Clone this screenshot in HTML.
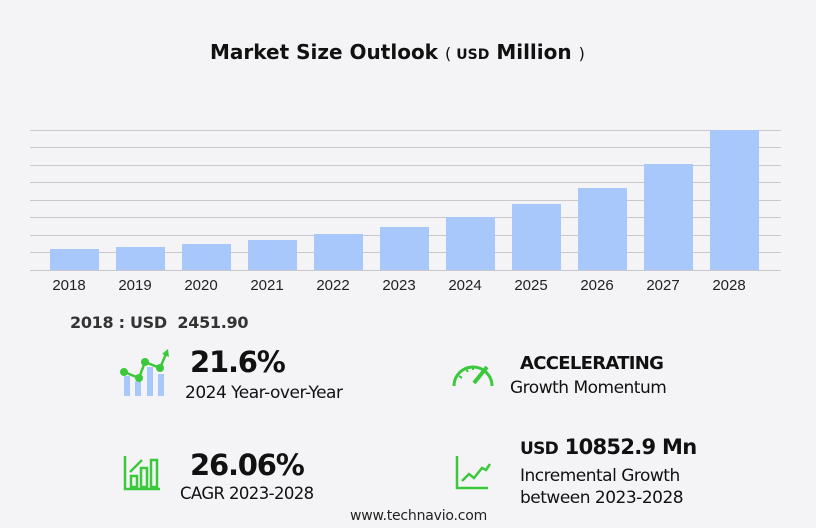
<!DOCTYPE html>
<html><head><style>
body{margin:0;width:816px;height:528px;background:#f4f4f6;font-family:"DejaVu Sans","Liberation Sans",sans-serif;position:relative;overflow:hidden;color:#111}
.a{position:absolute;white-space:nowrap}
.b{font-weight:bold}
</style></head><body>
<svg class="a" style="left:0;top:0" width="816" height="300">
<g stroke="#c8c8cc" stroke-width="1">
<line x1="30" x2="781" y1="130.5" y2="130.5"/><line x1="30" x2="781" y1="147.5" y2="147.5"/><line x1="30" x2="781" y1="165.5" y2="165.5"/><line x1="30" x2="781" y1="182.5" y2="182.5"/><line x1="30" x2="781" y1="200.5" y2="200.5"/><line x1="30" x2="781" y1="217.5" y2="217.5"/><line x1="30" x2="781" y1="235.5" y2="235.5"/><line x1="30" x2="781" y1="252.5" y2="252.5"/><line x1="30" x2="781" y1="270.5" y2="270.5"/>
</g>
<g fill="#a8c8fc">
<rect x="50" y="249" width="49" height="21"/><rect x="116" y="247" width="49" height="23"/><rect x="182" y="244" width="49" height="26"/><rect x="248" y="240" width="49" height="30"/><rect x="314" y="234" width="49" height="36"/><rect x="380" y="227" width="49" height="43"/><rect x="446" y="217" width="49" height="53"/><rect x="512" y="204" width="49" height="66"/><rect x="578" y="188" width="49" height="82"/><rect x="644" y="164" width="49" height="106"/><rect x="710" y="130" width="49" height="140"/>
</g>
<g font-family="Liberation Sans,sans-serif" font-size="15" fill="#222" text-anchor="middle">
<text x="69" y="290">2018</text><text x="135" y="290">2019</text><text x="201" y="290">2020</text><text x="267" y="290">2021</text><text x="333" y="290">2022</text><text x="399" y="290">2023</text><text x="465" y="290">2024</text><text x="531" y="290">2025</text><text x="597" y="290">2026</text><text x="663" y="290">2027</text><text x="729" y="290">2028</text>
</g>
</svg>
<div class="a b" style="left:210px;top:40px;font-size:20px">Market Size Outlook <span style="font-weight:normal;font-size:16px">( </span><span style="font-size:14px">USD</span> Million <span style="font-weight:normal;font-size:16px">)</span></div>
<div class="a b" style="left:70px;top:313px;font-size:16px;color:#333;letter-spacing:-0.3px">2018 : USD&nbsp; 2451.90</div>
<svg class="a" style="left:118px;top:348px" width="56" height="50">
<g fill="#a8c8fc"><rect x="6" y="28" width="6" height="20"/><rect x="17" y="33" width="6" height="15"/><rect x="29" y="19" width="6" height="29"/><rect x="40" y="26" width="6" height="22"/></g>
<polyline points="6,24 21,30 27,14 42,20 48,6" fill="none" stroke="#3cc83c" stroke-width="2.5"/>
<g fill="#3cc83c"><circle cx="6" cy="24" r="4"/><circle cx="21" cy="30" r="4"/><circle cx="27" cy="14" r="4"/><circle cx="42" cy="20" r="4"/><path d="M44,6 L50,1 L51,9z"/></g>
</svg>
<div class="a b" style="left:190px;top:345px;font-size:29px;letter-spacing:-1.2px">21.6%</div>
<div class="a" style="left:185px;top:383px;font-size:17px;letter-spacing:-0.5px">2024 Year-over-Year</div>
<svg class="a" style="left:450px;top:358px" width="46" height="30"><path d="M4,28 A19,19 0 0 1 42,28" fill="none" stroke="#3cc83c" stroke-width="3"/><g stroke="#3cc83c" stroke-width="2"><line x1="9" y1="18" x2="12" y2="20"/><line x1="16" y1="11" x2="18" y2="14"/><line x1="23" y1="9" x2="23" y2="12"/></g><line x1="24" y1="25" x2="37" y2="9" stroke="#3cc83c" stroke-width="4"/></svg>
<div class="a b" style="left:520px;top:353px;font-size:18px;letter-spacing:-0.7px">ACCELERATING</div>
<div class="a" style="left:510px;top:378px;font-size:17px;letter-spacing:-0.5px">Growth Momentum</div>
<svg class="a" style="left:122px;top:454px" width="40" height="38"><g fill="none" stroke="#3cc83c" stroke-width="2.5"><path d="M3,2 V35 H38"/><rect x="9" y="22" width="6" height="11"/><rect x="19" y="14" width="6" height="19"/><rect x="29" y="6" width="6" height="27"/><path d="M8,18 L20,6"/></g></svg>
<div class="a b" style="left:190px;top:448px;font-size:29px;letter-spacing:-1.2px">26.06%</div>
<div class="a" style="left:180px;top:484px;font-size:16.5px;letter-spacing:-0.6px">CAGR 2023-2028</div>
<svg class="a" style="left:454px;top:454px" width="40" height="38"><g fill="none" stroke="#3cc83c" stroke-width="2.5"><path d="M3,2 V34 H34"/><path d="M8,27 L15,20 L20,24 L28,14 L32,16 L36,10"/></g></svg>
<div class="a b" style="left:520px;top:435px;font-size:21px;letter-spacing:-0.7px"><span style="font-size:17px">USD</span> 10852.9 Mn</div>
<div class="a" style="left:520px;top:466px;font-size:17px;letter-spacing:-0.5px">Incremental Growth</div>
<div class="a" style="left:520px;top:488px;font-size:17px;letter-spacing:-0.5px">between 2023-2028</div>
<div class="a" style="left:350px;top:508px;font-size:14px;color:#222;letter-spacing:-0.2px">www.technavio.com</div>
</body></html>
